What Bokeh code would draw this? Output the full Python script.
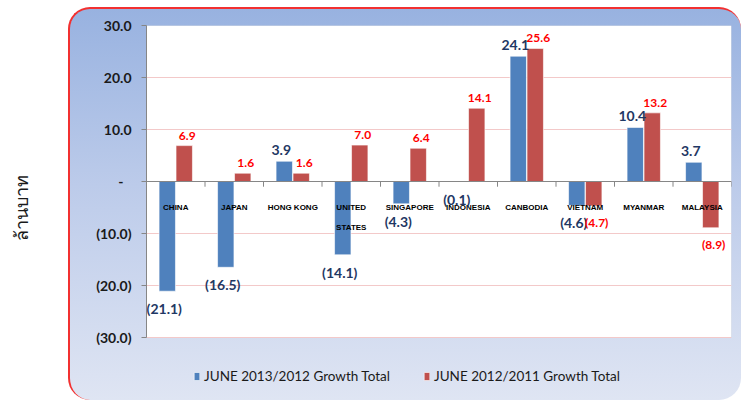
from bokeh.plotting import figure
from bokeh.models import (ColumnDataSource, FactorRange, Range1d, FixedTicker,
                          Legend, LegendItem, InlineStyleSheet, BoxAnnotation)
from bokeh.transform import dodge
from bokeh.core.properties import value
from bokeh.embed import file_html
from bokeh.resources import INLINE

# ---- data ----
categories = ["CHINA", "JAPAN", "HONG KONG", "UNITED\nSTATES", "SINGAPORE",
              "INDONESIA", "CANBODIA", "VIETNAM", "MYANMAR", "MALAYSIA"]
growth_2013_2012 = [-21.1, -16.5, 3.9, -14.1, -4.3, -0.1, 24.1, -4.6, 10.4, 3.7]
growth_2012_2011 = [6.9, 1.6, 1.6, 7.0, 6.4, 14.1, 25.6, -4.7, 13.2, -8.9]
series_names = ["JUNE 2013/2012 Growth Total", "JUNE 2012/2011 Growth Total"]
y_ticks = [-30, -20, -10, 0, 10, 20, 30]
y_tick_labels = ["(30.0)", "(20.0)", "(10.0)", "-\u2007", "10.0", "20.0", "30.0"]
y_title = "ล้านบาท"
y_min, y_max = -30, 30
legend_room = 10.19  # extra value span below the axis that holds the legend

BLUE = "#4F81BD"
RED = "#C0504D"


def fmt(v):
    return f"{v:.1f}" if v >= 0 else f"({-v:.1f})"


src = ColumnDataSource(dict(cat=categories, a=growth_2013_2012, b=growth_2012_2011))

p = figure(width=741, height=400, output_backend="svg", toolbar_location=None,
           x_range=FactorRange(*categories, range_padding=0, factor_padding=0),
           y_range=Range1d(y_min - legend_room, y_max),
           min_border_left=146, min_border_right=10, min_border_top=25, min_border_bottom=10)

p.border_fill_alpha = 0
p.background_fill_alpha = 0
p.outline_line_color = None

# gradient rounded frame behind the chart
css = """
:host { position: relative; z-index: 0; }
:host::before {
  content: ""; position: absolute; left: 68px; top: 7px; right: 0px; bottom: 0px;
  box-sizing: border-box; border: 2px solid #f23030; border-right-width: 0; border-bottom-width: 0;
  border-radius: 22px;
  background: linear-gradient(180deg, #98b2e0 0%, #bccbea 45%, #dfe5f3 100%);
  z-index: -1;
}
"""
p.stylesheets = [InlineStyleSheet(css=css)]

# white plot area between the axis limits
p.add_layout(BoxAnnotation(bottom=y_min, top=y_max, fill_color="white", fill_alpha=1,
                           line_color="#c4c4c4", line_width=1, level="image"))

# grid / axes
p.xgrid.visible = False
p.ygrid.ticker = FixedTicker(ticks=y_ticks)
p.ygrid.grid_line_color = "#F3C9C9"
p.xaxis.visible = False

ya = p.yaxis[0]
ya.ticker = FixedTicker(ticks=y_ticks)
ya.bounds = (y_min, y_max)
ya.major_label_overrides = {t: l for t, l in zip(y_ticks, y_tick_labels)}
ya.minor_tick_line_color = None
ya.major_tick_in = 0
ya.major_tick_out = 5
ya.major_tick_line_color = "#868686"
ya.axis_line_color = "#868686"
ya.major_label_standoff = 10
ya.major_label_text_font = "Lato"
ya.major_label_text_font_style = "bold"
ya.major_label_text_font_size = "14px"
ya.major_label_text_color = "#1a1a1a"
ya.axis_label = y_title
ya.axis_label_text_font = "Noto Sans"
ya.axis_label_text_font_style = "normal"
ya.axis_label_text_font_size = "18px"
ya.axis_label_text_color = "#1a1a1a"
ya.axis_label_standoff = 60

# bars
ra = p.vbar(x=dodge("cat", -0.145, range=p.x_range), top="a", width=0.28, source=src,
            fill_color=BLUE, line_color="white", line_alpha=0.6)
rb = p.vbar(x=dodge("cat", 0.145, range=p.x_range), top="b", width=0.28, source=src,
            fill_color=RED, line_color="white", line_alpha=0.6)

# zero line and category ticks
n = len(categories)
p.segment(x0=[0], x1=[n], y0=[0], y1=[0], line_color="#868686", line_width=1)
p.segment(x0=list(range(n + 1)), x1=list(range(n + 1)), y0=[0] * (n + 1), y1=[-1] * (n + 1),
          line_color="#868686", line_width=1)

# category labels at the zero line
p.text(x="cat", y=0, text="cat", source=src, text_align="center", text_baseline="top",
       y_offset=21, text_font=value("Liberation Sans"), text_font_style="bold",
       text_font_size="8px", text_color="black", text_line_height=2.25)


# data labels
def label_sets(vals):
    pos = dict(cat=[], y=[], t=[])
    neg = dict(cat=[], y=[], t=[])
    for c, v in zip(categories, vals):
        d = pos if v >= 0 else neg
        d["cat"].append(c)
        d["y"].append(v)
        d["t"].append(fmt(v))
    return ColumnDataSource(pos), ColumnDataSource(neg)


for vals, dx, col, size, xo in [(growth_2013_2012, -0.145, "#1F3864", "14px", -3),
                                (growth_2012_2011, 0.145, "#FF0000", "12px", 3)]:
    ps, ns = label_sets(vals)
    common = dict(x=dodge("cat", dx, range=p.x_range), y="y", text="t", text_align="center",
                  text_font=value("Lato"), text_font_style="bold", text_font_size=size,
                  text_color=col, x_offset=xo)
    p.text(source=ps, text_baseline="bottom", y_offset=-6, **common)
    p.text(source=ns, text_baseline="top", y_offset=9, **common)

legend = Legend(items=[LegendItem(label=series_names[0], renderers=[ra]),
                       LegendItem(label=series_names[1], renderers=[rb])],
                location=(47, 6), orientation="horizontal",
                glyph_width=7, glyph_height=10, label_standoff=4, spacing=33,
                padding=0, margin=0, label_height=16,
                label_text_font="Lato", label_text_font_size="13.5px", label_text_color="#1a1a1a",
                background_fill_alpha=0, border_line_alpha=0)
p.add_layout(legend, "center")

open("out.html", "w").write(file_html(p, INLINE))
